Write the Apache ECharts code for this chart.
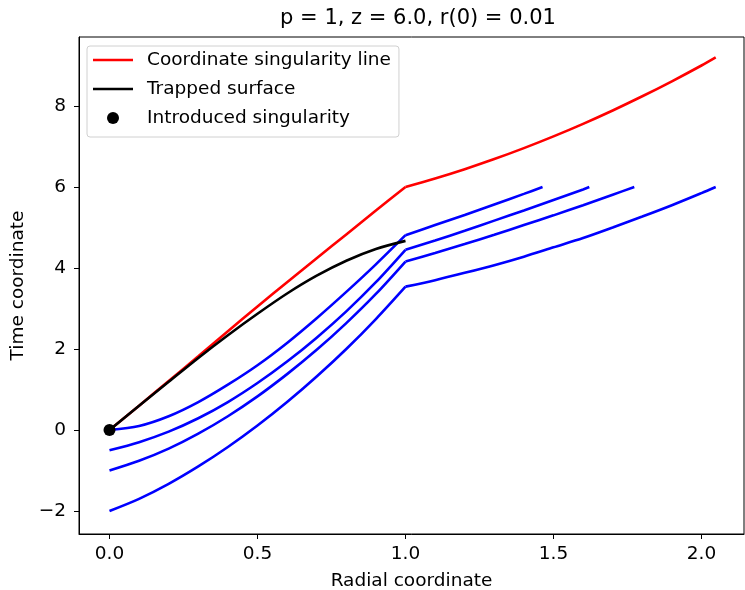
<!DOCTYPE html>
<html>
<head>
<meta charset="utf-8">
<script src="https://cdn.jsdelivr.net/npm/echarts@6/dist/echarts.min.js"></script>
<style>
html,body{margin:0;padding:0;background:#fff;}
#chart{width:745px;height:590px;}
</style>
</head>
<body>
<div id="chart"></div>
<script>
// ---- data ----
const titleText = 'p = 1, z = 6.0, r(0) = 0.01';
const xTicks = [0, 0.5, 1.0, 1.5, 2.0];
const yTicks = [-2, 0, 2, 4, 6, 8];

// inner region (r from 0 to 1)
const rInner = [0, 0.1, 0.2, 0.3, 0.4, 0.5, 0.6, 0.7, 0.8, 0.9, 1.0];
const redInner = [0, 0.60, 1.21, 1.82, 2.44, 3.05, 3.65, 4.24, 4.83, 5.42, 6.0];
const blackInner = [0, 0.60, 1.19, 1.78, 2.34, 2.87, 3.37, 3.81, 4.18, 4.47, 4.67];
const blue1Inner = [0, 0.10, 0.34, 0.69, 1.12, 1.60, 2.15, 2.76, 3.41, 4.09, 4.81];
const blue2Inner = [-0.5, -0.30, -0.04, 0.29, 0.69, 1.16, 1.69, 2.28, 2.93, 3.65, 4.45];
const blue3Inner = [-1, -0.76, -0.46, -0.09, 0.34, 0.83, 1.38, 1.98, 2.64, 3.36, 4.16];
const blue4Inner = [-2, -1.70, -1.33, -0.90, -0.42, 0.11, 0.69, 1.32, 2.00, 2.74, 3.54];

// outer region (r beyond 1)
const rRedOuter = [1.0, 1.1, 1.2, 1.3, 1.4, 1.5, 1.6, 1.7, 1.8, 1.9, 2.0, 2.048];
const redOuter = [6.0, 6.21, 6.44, 6.69, 6.96, 7.25, 7.56, 7.89, 8.24, 8.61, 9.0, 9.2];
const rBlue1Outer = [1.0, 1.1, 1.2, 1.3, 1.4, 1.463];
const blue1Outer = [4.81, 5.06, 5.31, 5.57, 5.83, 6.0];
const rBlue2Outer = [1.0, 1.1, 1.2, 1.3, 1.4, 1.5, 1.6, 1.621];
const blue2Outer = [4.45, 4.68, 4.92, 5.17, 5.42, 5.68, 5.94, 6.0];
const rBlue3Outer = [1.0, 1.1, 1.2, 1.3, 1.4, 1.5, 1.6, 1.7, 1.773];
const blue3Outer = [4.16, 4.37, 4.59, 4.82, 5.06, 5.30, 5.55, 5.81, 6.0];
const rBlue4Outer = [1.0, 1.1, 1.2, 1.3, 1.4, 1.5, 1.6, 1.7, 1.8, 1.9, 2.0, 2.048];
const blue4Outer = [3.54, 3.70, 3.88, 4.07, 4.28, 4.51, 4.74, 5.00, 5.27, 5.55, 5.85, 6.0];

const singularityR = [0];
const singularityT = [0];

const nameRed = 'Coordinate singularity line';
const nameBlack = 'Trapped surface';
const nameDot = 'Introduced singularity';

// ---- build ----
function pairs(xs, ys) { return xs.map((x, i) => [x, ys[i]]); }
const FONT = 'DejaVu Sans';
const FS = 18.5;
const LINE_ICON = 'path://M0,0L40,0L40,2.6L0,2.6Z';

function lineSeries(name, xs, ys, color, z) {
  return {
    type: 'line', name: name, data: pairs(xs, ys),
    symbol: 'none', showSymbol: false, smooth: 0.3, z: z,
    lineStyle: { color: color, width: 2.6 }, itemStyle: { color: color },
    emphasis: { disabled: true }, silent: true, animation: false
  };
}

const series = [
  lineSeries(nameRed, rInner, redInner, '#ff0000', 2),
  lineSeries(nameRed, rRedOuter, redOuter, '#ff0000', 2),
  lineSeries('blue1a', rInner, blue1Inner, '#0000ff', 3),
  lineSeries('blue1b', rBlue1Outer, blue1Outer, '#0000ff', 3),
  lineSeries('blue2a', rInner, blue2Inner, '#0000ff', 3),
  lineSeries('blue2b', rBlue2Outer, blue2Outer, '#0000ff', 3),
  lineSeries('blue3a', rInner, blue3Inner, '#0000ff', 3),
  lineSeries('blue3b', rBlue3Outer, blue3Outer, '#0000ff', 3),
  lineSeries('blue4a', rInner, blue4Inner, '#0000ff', 3),
  lineSeries('blue4b', rBlue4Outer, blue4Outer, '#0000ff', 3),
  lineSeries(nameBlack, rInner, blackInner, '#000000', 4),
  {
    type: 'scatter', name: nameDot, data: pairs(singularityR, singularityT),
    symbol: 'circle', symbolSize: 12, z: 5,
    itemStyle: { color: '#000000', opacity: 1 }, silent: true, animation: false
  }
];

const chart = echarts.init(document.getElementById('chart'), null, { renderer: 'canvas' });
chart.setOption({
  backgroundColor: '#ffffff',
  animation: false,
  title: {
    text: titleText, left: 413, top: 3, textAlign: 'center',
    textStyle: { fontFamily: FONT, fontSize: 21, fontWeight: 'normal', color: '#000' }
  },
  legend: {
    data: [
      { name: nameRed, icon: LINE_ICON, itemStyle: { color: '#ff0000', borderWidth: 0 } },
      { name: nameBlack, icon: LINE_ICON, itemStyle: { color: '#000000', borderWidth: 0 } },
      { name: nameDot, icon: 'circle', itemStyle: { color: '#000000', opacity: 1 } }
    ],
    orient: 'vertical', left: 87, top: 46,
    padding: [4, 8, 9, 6], itemGap: 9,
    itemWidth: 40, itemHeight: 12,
    backgroundColor: '#ffffff', borderColor: '#d0d0d0', borderWidth: 1, borderRadius: 3,
    selectedMode: false,
    textStyle: { fontFamily: FONT, fontSize: FS, color: '#000', lineHeight: 20, padding: [0, 0, 0, 9] }
  },
  grid: { left: 79, right: 1, top: 37, bottom: 56, outerBoundsMode: 'none', containLabel: false,
    show: true, borderColor: '#000', borderWidth: 1, backgroundColor: 'transparent' },
  xAxis: {
    type: 'value', min: -0.103, max: 2.1436,
    name: 'Radial coordinate', nameLocation: 'middle', nameGap: 38,
    nameTextStyle: { fontFamily: FONT, fontSize: FS, color: '#000' },
    axisLine: { show: true, onZero: false, lineStyle: { color: '#000', width: 1 } },
    axisTick: { show: true, length: 5, customValues: xTicks, lineStyle: { color: '#000' } },
    axisLabel: { customValues: xTicks, margin: 11, fontFamily: FONT, fontSize: FS, color: '#000',
      formatter: v => v.toFixed(1) },
    splitLine: { show: false }
  },
  yAxis: {
    type: 'value', min: -2.568, max: 9.704,
    name: 'Time coordinate', nameLocation: 'middle', nameGap: 51, nameRotate: 90,
    nameTextStyle: { fontFamily: FONT, fontSize: FS, color: '#000' },
    axisLine: { show: true, onZero: false, lineStyle: { color: '#000', width: 1 } },
    axisTick: { show: true, length: 5, customValues: yTicks, lineStyle: { color: '#000' } },
    axisLabel: { customValues: yTicks, margin: 13, fontFamily: FONT, fontSize: FS, color: '#000',
      formatter: v => String(v).replace('-', '\u2212') },
    splitLine: { show: false }
  },
  series: series
});
</script>
</body>
</html>
